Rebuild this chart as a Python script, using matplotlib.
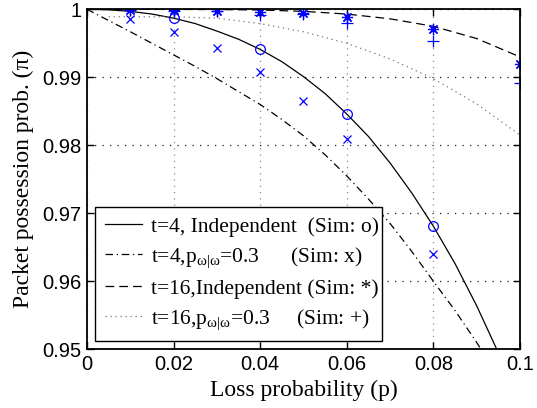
import numpy as np
import matplotlib
matplotlib.use("Agg")
from matplotlib import pyplot as plt

plt.rcParams['mathtext.fontset'] = 'custom'
plt.rcParams['mathtext.rm'] = 'Liberation Serif'
plt.rcParams['mathtext.it'] = 'Liberation Serif:italic'

# Analytical curves (loss probability p -> packet possession probability)
p_fine = [0, 0.005, 0.01, 0.015, 0.02, 0.025, 0.03, 0.035, 0.04, 0.045,
          0.05, 0.055, 0.06, 0.065, 0.07, 0.075, 0.08, 0.085, 0.09, 0.095]
t4_indep = [1.0, 0.99992, 0.9997, 0.9993, 0.9987, 0.9979, 0.9968, 0.9956,
            0.9941, 0.9923, 0.9901, 0.9876, 0.9846, 0.9813, 0.9774, 0.9730,
            0.9681, 0.9626, 0.9564, 0.9495]
t4_corr = [1.0, 0.99835, 0.9967, 0.9950, 0.9933, 0.9916, 0.9898, 0.9879,
           0.9860, 0.9838, 0.9814, 0.9786, 0.9755, 0.9721, 0.9685, 0.9644,
           0.9600, 0.9557, 0.9510, 0.9460]

p_coarse = [0, 0.01, 0.02, 0.03, 0.04, 0.05, 0.06, 0.07, 0.08, 0.09, 0.1]
t16_indep = [1.0, 1.0, 0.99999, 0.99996, 0.9999, 0.9997, 0.9993, 0.9986,
             0.9975, 0.9957, 0.9930]
p_t16_corr = [0.005, 0.01, 0.02, 0.03, 0.04, 0.05, 0.06, 0.07, 0.08, 0.09, 0.1]
t16_corr = [0.9989, 0.9989, 0.9989, 0.9987, 0.9979, 0.9967, 0.9950, 0.9927,
            0.9898, 0.9861, 0.9815]

# Simulation results
sim_o_p = [0.02, 0.04, 0.06, 0.08]
sim_o = [0.9987, 0.9941, 0.9846, 0.9681]
sim_x_p = [0.01, 0.02, 0.03, 0.04, 0.05, 0.06, 0.08]
sim_x = [0.9986, 0.9967, 0.9943, 0.9908, 0.9865, 0.9809, 0.9640]
sim_star_p = [0.01, 0.02, 0.03, 0.04, 0.05, 0.06, 0.08, 0.1]
sim_star = [0.9999, 0.9999, 0.99975, 0.99965, 0.9994, 0.9989, 0.9971, 0.9919]
sim_plus_p = [0.01, 0.02, 0.03, 0.04, 0.05, 0.06, 0.08, 0.1]
sim_plus = [0.9999, 0.9998, 0.9997, 0.9992, 0.9993, 0.9980, 0.9954, 0.9891]

xticks = [0, 0.02, 0.04, 0.06, 0.08, 0.1]
xticklabels = ["0", "0.02", "0.04", "0.06", "0.08", "0.1"]
yticks = [0.95, 0.96, 0.97, 0.98, 0.99, 1.0]
yticklabels = ["0.95", "0.96", "0.97", "0.98", "0.99", "1"]

labels = ["t=4, Independent  (Sim: o)",
          r"t=4,p$_{\mathrm{ω|ω}}$=0.3      (Sim: x)",
          "t=16,Independent (Sim: *)",
          r"t=16,p$_{\mathrm{ω|ω}}$=0.3     (Sim: +)"]

fig = plt.figure(figsize=(5.37, 4.08), dpi=100)
ax = fig.add_axes([0.162, 0.1439, 0.8063, 0.8333])

l1, = ax.plot(p_fine, t4_indep, color='k', lw=0.9, ls='-')
l2, = ax.plot(p_fine, t4_corr, color='k', lw=0.9, ls=(0, (6, 3, 1, 3)))
l3, = ax.plot(p_coarse, t16_indep, color='k', lw=0.9, ls=(0, (7, 4)))
l4, = ax.plot(p_t16_corr, t16_corr, color='0.45', lw=0.9, ls=(0, (1, 3)))

blue = (0, 0, 1)
ax.plot(sim_o_p, sim_o, ls='none', marker='o', mfc='none', mec=blue, ms=7, mew=0.9)
ax.plot(sim_x_p, sim_x, ls='none', marker='x', color=blue, ms=6, mew=0.9)
ax.plot(sim_star_p, sim_star, ls='none', marker=(8, 2, 0), color=blue, ms=8, mew=0.9)
ax.plot(sim_plus_p, sim_plus, ls='none', marker='+', color=blue, ms=9, mew=0.9)

ax.set_xlim(0, 0.1)
ax.set_ylim(0.95, 1.0)
ax.set_xticks(xticks)
ax.set_xticklabels(xticklabels, family='Liberation Sans', fontsize=14.5)
ax.set_yticks(yticks)
ax.set_yticklabels(yticklabels, family='Liberation Sans', fontsize=14.5)
ax.tick_params(direction='in', length=5, width=1, top=True, right=True, pad=4)
for s in ax.spines.values():
    s.set_linewidth(1.3)

ax.xaxis.grid(True, color='0.55', ls=(0, (1, 4)), lw=0.9)
ax.yaxis.grid(True, color='0.1', ls=(0, (1, 5)), lw=0.9)
ax.set_axisbelow(True)

ax.set_xlabel("Loss probability (p)", family='Liberation Serif', fontsize=17, labelpad=4)
ax.set_ylabel("Packet possession prob. (π)", family='Liberation Serif', fontsize=17, labelpad=6)

leg = ax.legend([l1, l2, l3, l4], labels, loc='lower left',
                bbox_to_anchor=(0.0185, 0.0235, 0.663, 0.392), mode='expand',
                borderaxespad=0, handlelength=1.75, handletextpad=0.42,
                labelspacing=0.4, borderpad=0.45, fancybox=False,
                framealpha=1, edgecolor='k',
                prop={'family': 'Liberation Serif', 'size': 15.5})
leg.get_frame().set_linewidth(1.0)

fig.savefig("out.png", dpi=100)
